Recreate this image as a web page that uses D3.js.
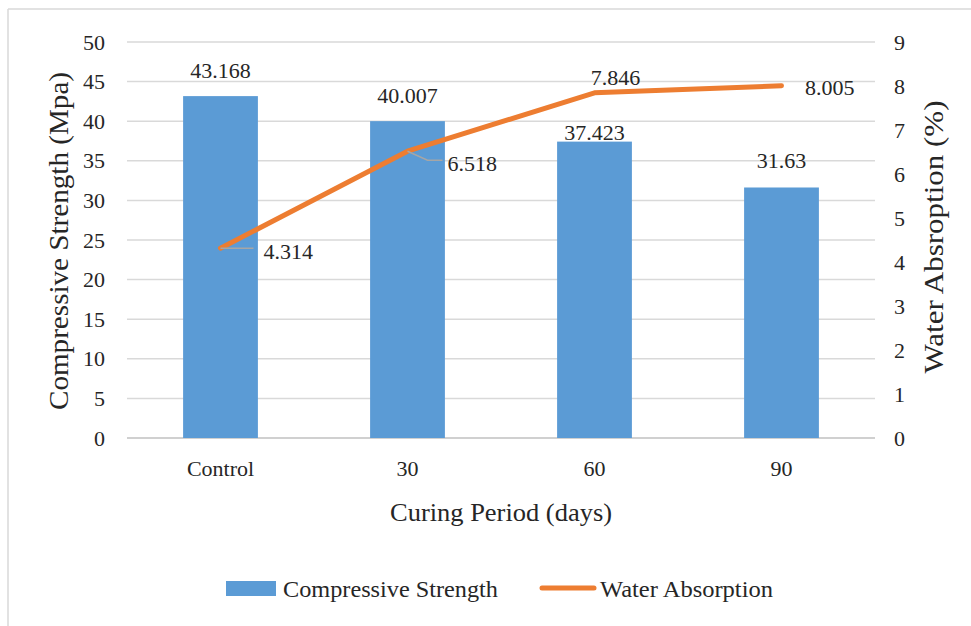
<!DOCTYPE html>
<html>
<head>
<meta charset="utf-8">
<script src="https://cdn.jsdelivr.net/npm/d3@7/dist/d3.min.js"></script>
</head>
<body style="margin:0">
<svg id="chart" width="971" height="626" font-family="Liberation Serif" style="display:block;font-family:'Liberation Serif'"></svg>
<script>
// ---- data ----
const categories = ["Control", "30", "60", "90"];
const compressiveStrength = [43.168, 40.007, 37.423, 31.63];
const waterAbsorption = [4.314, 6.518, 7.846, 8.005];
const leftTicks = [0, 5, 10, 15, 20, 25, 30, 35, 40, 45, 50];
const rightTicks = [0, 1, 2, 3, 4, 5, 6, 7, 8, 9];
const strengthLabels = ["43.168", "40.007", "37.423", "31.63"];
const absorptionLabels = ["4.314", "6.518", "7.846", "8.005"];

// ---- layout ----
const FONT = "Liberation Serif";
const TXT = "#262626";
const svg = d3.select("#chart");
const plot = { left: 127, right: 875, top: 42, bottom: 438 };
const barColor = "#5b9bd5";
const lineColor = "#ed7d31";
const gridColor = "#d9d9d9";

function txt(sel, size) {
  return sel.attr("font-family", FONT).attr("font-size", size).attr("fill", TXT)
    .style("font-family", FONT).style("font-size", size + "px");
}

const x = d3.scaleBand().domain(categories).range([plot.left, plot.right]).paddingInner(0.6).paddingOuter(0.3);
const yL = d3.scaleLinear().domain([0, 50]).range([plot.bottom, plot.top]);
const yR = d3.scaleLinear().domain([0, 9]).range([plot.bottom, plot.top]);
const cx = c => x(c) + x.bandwidth() / 2;

// outer frame (top and left edges visible)
svg.append("line").attr("x1", 8).attr("x2", 971).attr("y1", 9).attr("y2", 9)
  .attr("stroke", "#d9d9d9").attr("stroke-width", 1.5);
svg.append("line").attr("x1", 8).attr("x2", 8).attr("y1", 9).attr("y2", 626)
  .attr("stroke", "#d9d9d9").attr("stroke-width", 1.5);

// gridlines
svg.append("g").selectAll("line").data(leftTicks).join("line")
  .attr("x1", plot.left).attr("x2", plot.right)
  .attr("y1", d => yL(d)).attr("y2", d => yL(d))
  .attr("stroke", d => d === 0 ? "#d0d0d0" : gridColor)
  .attr("stroke-width", d => d === 0 ? 2 : 1.5);

function styleAxis(g) {
  g.attr("font-family", FONT).attr("font-size", 22);
  g.select(".domain").remove();
  g.selectAll("text").call(txt, 22);
}

// left axis
svg.append("g").attr("transform", `translate(${plot.left},0)`)
  .call(d3.axisLeft(yL).tickValues(leftTicks).tickSize(0).tickPadding(22)).call(styleAxis);

// right axis
svg.append("g").attr("transform", `translate(${plot.right},0)`)
  .call(d3.axisRight(yR).tickValues(rightTicks).tickSize(0).tickPadding(19)).call(styleAxis);

// bottom axis labels
svg.append("g").attr("transform", `translate(0,${plot.bottom})`)
  .call(d3.axisBottom(x).tickSize(0).tickPadding(22)).call(styleAxis);

// bars
svg.append("g").selectAll("rect").data(compressiveStrength).join("rect")
  .attr("x", (d, i) => x(categories[i]))
  .attr("width", x.bandwidth())
  .attr("y", d => yL(d))
  .attr("height", d => yL(0) - yL(d))
  .attr("fill", barColor);

// bar labels
const barLabelGap = [18, 18, 1.5, 19];
svg.append("g").selectAll("text").data(compressiveStrength).join("text")
  .attr("x", (d, i) => cx(categories[i]))
  .attr("y", (d, i) => yL(d) - barLabelGap[i])
  .attr("text-anchor", "middle")
  .call(txt, 22)
  .text((d, i) => strengthLabels[i]);

// line
const line = d3.line().x((d, i) => cx(categories[i])).y(d => yR(d));
svg.append("path").datum(waterAbsorption)
  .attr("d", line).attr("fill", "none")
  .attr("stroke", lineColor).attr("stroke-width", 5)
  .attr("stroke-linecap", "round").attr("stroke-linejoin", "round");

// line label leaders
const pt = i => [cx(categories[i]), yR(waterAbsorption[i])];
const leaderColor = "#a6a6a6";
const p0 = pt(0), p1 = pt(1);
svg.append("path").attr("d", `M${p0[0]},${p0[1]} H${p0[0] + 33}`)
  .attr("stroke", leaderColor).attr("stroke-width", 1.5).attr("fill", "none");
svg.append("path").attr("d", `M${p1[0]},${p1[1]} L${p1[0] + 20},${p1[1] + 9} H${p1[0] + 35}`)
  .attr("stroke", leaderColor).attr("stroke-width", 1.5).attr("fill", "none");

// line labels (offsets from each point)
const lblOff = [[43, 11, "start"], [40, 20, "start"], [21, -8, "middle"], [23.5, 9, "start"]];
svg.append("g").selectAll("text").data(waterAbsorption).join("text")
  .attr("x", (d, i) => pt(i)[0] + lblOff[i][0])
  .attr("y", (d, i) => pt(i)[1] + lblOff[i][1])
  .attr("text-anchor", (d, i) => lblOff[i][2])
  .call(txt, 22)
  .text((d, i) => absorptionLabels[i]);

// axis titles
svg.append("text")
  .attr("transform", "translate(68,241) rotate(-90)")
  .attr("text-anchor", "middle")
  .call(txt, 27)
  .attr("textLength", 338).attr("lengthAdjust", "spacingAndGlyphs")
  .text("Compressive Strength (Mpa)");

svg.append("text")
  .attr("transform", "translate(943,237) rotate(-90)")
  .attr("text-anchor", "middle")
  .call(txt, 27)
  .attr("textLength", 273).attr("lengthAdjust", "spacingAndGlyphs")
  .text("Water Absroption (%)");

svg.append("text")
  .attr("x", 501).attr("y", 521)
  .attr("text-anchor", "middle")
  .call(txt, 25)
  .attr("textLength", 222).attr("lengthAdjust", "spacingAndGlyphs")
  .text("Curing Period (days)");

// legend
const lg = svg.append("g");
lg.append("rect").attr("x", 226).attr("y", 581).attr("width", 50).attr("height", 15).attr("fill", barColor);
lg.append("text").attr("x", 283).attr("y", 597)
  .call(txt, 24)
  .attr("textLength", 215).attr("lengthAdjust", "spacingAndGlyphs")
  .text("Compressive Strength");
lg.append("line").attr("x1", 542).attr("x2", 594).attr("y1", 588).attr("y2", 588)
  .attr("stroke", lineColor).attr("stroke-width", 5).attr("stroke-linecap", "round");
lg.append("text").attr("x", 600).attr("y", 597)
  .call(txt, 24)
  .attr("textLength", 173).attr("lengthAdjust", "spacingAndGlyphs")
  .text("Water Absorption");
</script>
</body>
</html>
